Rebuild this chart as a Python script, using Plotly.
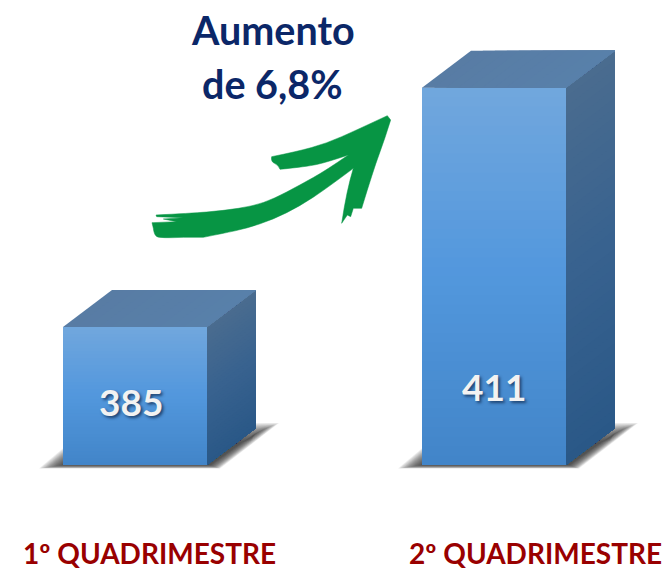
import plotly.graph_objects as go

# ---- data ----
categories = ["1º QUADRIMESTRE", "2º QUADRIMESTRE"]
values = [385, 411]
x_positions = [0, 1]
headline = ["Aumento", "de 6,8%"]

W, H = 667, 570
BASE = 370
PX_Y = (465 - 327) / (values[0] - BASE)  # px per value unit
PX_X = 359.0  # px per category step
X0_PX = 135.0
BAR_W = 144 / PX_X
DX = 49 / PX_X
DY = 37 / PX_Y


def lerp(a, b, t):
    return a + (b - a) * t


def mix(stops, t):
    for (t0, c0), (t1, c1) in zip(stops, stops[1:]):
        if t <= t1:
            k = (t - t0) / (t1 - t0) if t1 > t0 else 0
            return "rgb(%d,%d,%d)" % tuple(round(lerp(p, q, k)) for p, q in zip(c0, c1))
    return "rgb(%d,%d,%d)" % stops[-1][1]


FRONT = [(0, (113, 167, 221)), (0.5, (82, 151, 221)), (1, (66, 133, 200))]
SIDE = [(0, (74, 108, 143)), (0.5, (56, 98, 143)), (1, (42, 88, 135))]
TOP_L, TOP_R = (88, 124, 164), (88, 128, 170)

fig = go.Figure()

# solid bars, from the data
fig.add_trace(go.Bar(
    x=x_positions, y=[v - BASE for v in values], base=BASE, width=BAR_W,
    marker=dict(color="rgb(82,151,221)", line=dict(width=0)),
    hoverinfo="skip", showlegend=False,
))


def poly(xs, ys, color):
    fig.add_trace(go.Scatter(
        x=xs + xs[:1], y=ys + ys[:1], mode="lines", fill="toself", fillcolor=color,
        line=dict(width=0), hoverinfo="skip", showlegend=False,
    ))


N = 40
shapes = []
for xc, v in zip(x_positions, values):
    l, r = xc - BAR_W / 2, xc + BAR_W / 2
    # soft shadow under each bar (layered translucent polygons)
    layers = 18
    for i in range(layers):
        e = 1 - i / (layers - 1)  # 1 = outermost
        pts = [
            (l - (0 + 24 * e) / PX_X, BASE - (0 + 3.5 * e) / PX_Y),
            (l + 4 / PX_X, BASE + (2 + 18 * e) / PX_Y),
            (r + 44 / PX_X, BASE + (24 + 18 * e) / PX_Y),
            (r + (48 + 24 * e) / PX_X, BASE + (32 + 10 * e) / PX_Y),
            (r + (3 + 10 * e) / PX_X, BASE - (0 + 3.5 * e) / PX_Y),
        ]
        path = "M" + "L".join(f"{a},{b}" for a, b in pts) + "Z"
        shapes.append(dict(type="path", path=path, xref="x", yref="y", layer="below",
                           fillcolor="rgba(40,40,40,0.08)", line=dict(width=0)))
    # front gradient: each band reaches down to the base, the next one paints over it
    for i in range(N):
        t0, t1 = i / N, (i + 1) / N
        y0 = lerp(v, BASE, t0)
        poly([l, r, r, l], [y0, y0, BASE, BASE], mix(FRONT, (t0 + t1) / 2))
    # side gradient, same overlap
    for i in range(N):
        t0, t1 = i / N, (i + 1) / N
        y0 = lerp(v, BASE, t0)
        poly([r, r + DX, r + DX, r], [y0, y0 + DY, BASE + DY, BASE], mix(SIDE, (t0 + t1) / 2))
    # top face
    M = 12
    for i in range(M):
        t0, t1 = i / M, (i + 1) / M
        c = mix([(0, TOP_L), (1, TOP_R)], (t0 + t1) / 2)
        a = lerp(l, r, t0)
        poly([a, r, r + DX, a + DX], [v, v, v + DY, v + DY], c)


# hand-drawn style green arrow (decoration, traced outline): smooth sections, sharp joins
arrow_sections = [
    [(48, 345), (150, 340), (250, 332), (340, 318), (400, 297), (480, 255), (560, 210), (625, 165)],
    [(625, 165), (560, 187), (500, 200), (420, 208)],
    [(420, 208), (415, 195), (392, 185), (395, 170)],
    [(395, 170), (470, 155), (560, 130), (650, 90), (742, 47)],
    [(742, 47), (752, 60)],
    [(752, 60), (735, 115), (700, 210), (665, 325)],
    [(665, 325), (640, 325)],
    [(640, 325), (632, 350)],
    [(632, 350), (622, 345)],
    [(622, 345), (605, 370)],
    [(605, 370), (620, 270), (640, 205)],
    [(640, 205), (560, 265), (480, 318), (400, 358), (320, 385), (250, 400), (190, 412)],
    [(190, 412), (130, 412)],
    [(130, 412), (60, 415), (42, 405), (40, 385)],
    [(40, 385), (36, 368)],
    [(36, 368), (110, 365)],
    [(110, 365), (70, 357)],
    [(70, 357), (130, 353)],
    [(130, 353), (50, 350)],
    [(50, 350), (48, 345)],
]


def to_paper(p):
    return f"{(140 + p[0] / 3) / W},{1 - (100 + p[1] / 3) / H}"


path = "M" + to_paper(arrow_sections[0][0])
for sec in arrow_sections:
    if len(sec) == 2:
        path += "L" + to_paper(sec[1])
        continue
    for c, nxt in zip(sec[1:-1], sec[2:]):
        end = nxt if nxt == sec[-1] else ((c[0] + nxt[0]) / 2, (c[1] + nxt[1]) / 2)
        path += "Q" + to_paper(c) + " " + to_paper(end)
path += "Z"
shapes.append(dict(type="path", path=path, xref="paper", yref="paper", layer="above",
                   fillcolor="#079544", line=dict(color="#079544", width=0.5)))

FONT = "Lato, 'Open Sans', sans-serif"
ann = []
for text, px_y in zip(headline, (30, 83)):
    ann.append(dict(text=f"<b>{text}</b>", xref="paper", yref="paper", x=272.5 / W, y=1 - px_y / H,
                    showarrow=False, xanchor="center", yanchor="middle",
                    font=dict(family=FONT, size=39.5, color="#0b2768")))
for cat, px_x in zip(categories, (149, 535)):
    ann.append(dict(text=f"<b>{cat}</b>", xref="paper", yref="paper", x=px_x / W, y=1 - 553 / H,
                    showarrow=False, xanchor="center", yanchor="middle",
                    font=dict(family=FONT, size=28, color="#990000")))
for xc, v, px_dx, px_y in zip(x_positions, values, (-4, 0), (401, 386)):
    ann.append(dict(text=f"<b>{v}</b>", x=xc, y=BASE + (465 - px_y) / PX_Y, xshift=px_dx,
                    showarrow=False, xanchor="center", yanchor="middle",
                    font=dict(family=FONT, size=37, color="#f2f2f2",
                              shadow="2px 2px 3px rgba(20,50,90,0.8)")))

fig.update_layout(
    width=W, height=H, margin=dict(l=0, r=0, t=0, b=0),
    paper_bgcolor="white", plot_bgcolor="rgba(0,0,0,0)", showlegend=False,
    shapes=shapes, annotations=ann,
    xaxis=dict(range=[-X0_PX / PX_X, (W - X0_PX) / PX_X], visible=False, fixedrange=True),
    yaxis=dict(range=[BASE - (H - 465) / PX_Y, BASE + 465 / PX_Y], visible=False, fixedrange=True),
)
fig.write_html("out.html", config={"displayModeBar": False},
               post_script="document.body.style.margin='0';")
